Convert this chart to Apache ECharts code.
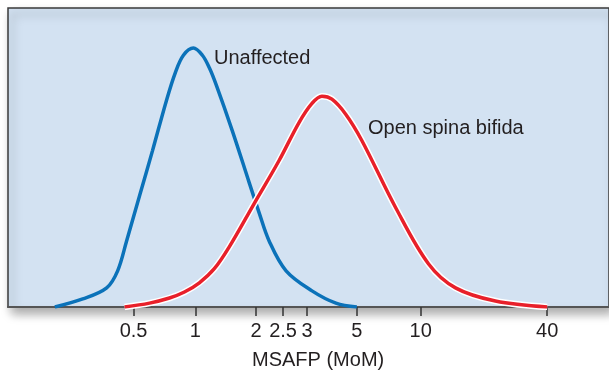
<!DOCTYPE html>
<html>
<head>
<meta charset="utf-8">
<script src="https://cdn.jsdelivr.net/npm/echarts@6/dist/echarts.min.js"></script>
<style>
  html, body { margin: 0; padding: 0; background: #fff; }
  #chart { width: 609px; height: 373px; }
</style>
</head>
<body>
<div id="chart"></div>
<script>
// x axis is drawn in "scale units" (the figure's MoM scale is not a strict log scale)
const tickPos = [12.6, 18.8, 24.9, 27.6, 30.0, 35.0, 41.4, 54.1];
const tickLabels = ['0.5', '1', '2', '2.5', '3', '5', '10', '40'];

// density curves: [scale position, relative height]
const unaffected = [
    [4.7, 0], [7.5, 0.027], [9.9, 0.064], [11.0, 0.121], [11.9, 0.221],
    [13.2, 0.372], [14.5, 0.523], [15.9, 0.691], [16.8, 0.785], [17.6, 0.842],
    [18.6, 0.866], [19.5, 0.842], [20.2, 0.800], [20.9, 0.742], [22.5, 0.590],
    [24.2, 0.416], [25.2, 0.315], [26.2, 0.221], [27.9, 0.121], [30.5, 0.054],
    [32.9, 0.013], [35.0, 0]
];
const spinaBifida = [
    [11.7, 0], [14.2, 0.013], [16.2, 0.030], [17.7, 0.050], [19.2, 0.081],
    [20.7, 0.128], [22.2, 0.201], [24.7, 0.346], [27.2, 0.490], [29.2, 0.617],
    [30.5, 0.681], [31.5, 0.705], [32.5, 0.695], [33.9, 0.644], [35.5, 0.557],
    [38.9, 0.332], [42.2, 0.144], [44.9, 0.064], [48.9, 0.020], [54.1, 0]
];

const chart = echarts.init(document.getElementById('chart'));
const font = 'Liberation Sans, Arial, sans-serif';

chart.setOption({
    animation: false,
    grid: {
        left: 8, right: -2, top: 8, bottom: 66,
        show: true,
        backgroundColor: '#d3e2f2',
        borderColor: '#3a3a3a',
        borderWidth: 1.5,
        shadowColor: 'rgba(0,0,0,0.35)',
        shadowBlur: 10,
        shadowOffsetX: 4,
        shadowOffsetY: 6
    },
    xAxis: {
        type: 'value',
        min: 0,
        max: 60.3,
        splitLine: {show: false},
        axisLine: {lineStyle: {color: '#555', width: 2}},
        axisTick: {
            customValues: tickPos,
            length: 9,
            lineStyle: {color: '#333', width: 1.5}
        },
        axisLabel: {
            customValues: tickPos,
            margin: 14,
            fontSize: 20,
            fontFamily: font,
            color: '#231f20',
            formatter: v => tickLabels[tickPos.indexOf(v)]
        }
    },
    yAxis: {
        type: 'value',
        min: 0,
        max: 1,
        show: false
    },
    series: [
        {
            type: 'line', data: unaffected, smooth: 0.35, showSymbol: false,
            lineStyle: {color: '#0b72b9', width: 3.5}, z: 2
        },
        {
            type: 'line', data: spinaBifida, smooth: 0.35, showSymbol: false,
            lineStyle: {color: '#ffffff', width: 6.5}, z: 3
        },
        {
            type: 'line', data: spinaBifida, smooth: 0.35, showSymbol: false,
            lineStyle: {color: '#e8202a', width: 3.5}, z: 4
        }
    ],
    graphic: [
        {
            type: 'text', left: 214, top: 48,
            style: {text: 'Unaffected', fontSize: 20, fontFamily: font, fill: '#231f20'}
        },
        {
            type: 'text', left: 368, top: 118,
            style: {text: 'Open spina bifida', fontSize: 20, fontFamily: font, fill: '#231f20'}
        },
        {
            type: 'text', left: 252, top: 350,
            style: {text: 'MSAFP (MoM)', fontSize: 20, fontFamily: font, fill: '#231f20'}
        }
    ]
});
</script>
</body>
</html>
